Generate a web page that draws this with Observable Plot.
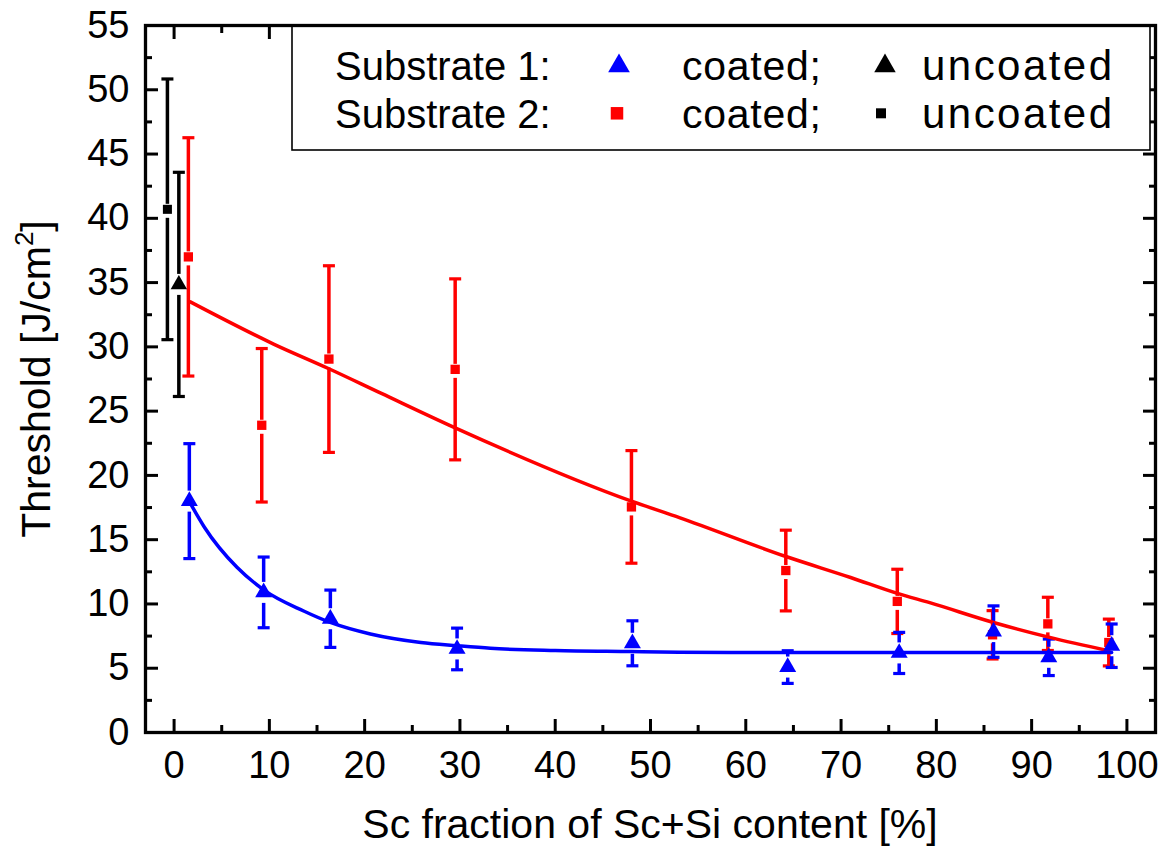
<!DOCTYPE html>
<html>
<head>
<meta charset="utf-8">
<script src="https://cdn.jsdelivr.net/npm/d3@7"></script>
<script src="https://cdn.jsdelivr.net/npm/@observablehq/plot@0.6"></script>
<style>
  html, body { margin: 0; padding: 0; background: #fff; }
  #chart { width: 1170px; height: 853px; }
</style>
</head>
<body>
<div id="chart"></div>
<script>
// ---------- data ----------
// Substrate 1, coated (blue triangles)
const sub1CoatedX   = [1.6, 9.4, 16.4, 29.7, 48.1, 64.4, 76.1, 86.0, 91.8, 98.4];
const sub1CoatedY   = [18.0, 10.9, 8.85, 6.5, 6.94, 5.09, 6.19, 7.85, 5.85, 6.75];
const sub1CoatedErr = [4.47, 2.75, 2.23, 1.62, 1.75, 1.27, 1.6, 2.0, 1.42, 1.69];
// Substrate 2, coated (red squares)
const sub2CoatedX   = [1.5, 9.2, 16.25, 29.5, 48.0, 64.2, 75.9, 85.9, 91.7, 98.1];
const sub2CoatedY   = [37.0, 23.9, 29.05, 28.25, 17.55, 12.6, 10.2, 7.6, 8.45, 7.0];
const sub2CoatedErr = [9.27, 5.97, 7.26, 7.04, 4.38, 3.14, 2.5, 1.88, 2.07, 1.82];
// Substrate 1, uncoated (black triangle)
const sub1UncoatedX   = [0.5];
const sub1UncoatedY   = [34.86];
const sub1UncoatedErr = [8.72];
// Substrate 2, uncoated (black square)
const sub2UncoatedX   = [-0.7];
const sub2UncoatedY   = [40.7];
const sub2UncoatedErr = [10.14];
// Fit curves, points
const fit1X = [1.65, 3.2, 6.6, 9.4, 13.6, 16.4, 20.6, 25.9, 29.7, 33.2, 40, 48, 53, 65, 80, 98.4];
const fit1Y = [17.9, 15.95, 12.85, 11.1, 9.45, 8.56, 7.66, 7.0, 6.75, 6.55, 6.38, 6.3, 6.25, 6.22, 6.22, 6.22];
const fit2X = [1.7, 10.5, 16.25, 21.7, 29.5, 48, 53.1, 64.3, 71, 76, 79.3, 86, 91.9, 98.1];
const fit2Y = [33.5, 30.2, 28.3, 26.4, 23.7, 18.0, 16.7, 13.67, 12.06, 10.8, 10.1, 8.56, 7.4, 6.36];
// Ticks
const xMajorTicks = [0, 10, 20, 30, 40, 50, 60, 70, 80, 90, 100];
const xMinorTicks = [5, 15, 25, 35, 45, 55, 65, 75, 85, 95];
const yMajorTicks = [0, 5, 10, 15, 20, 25, 30, 35, 40, 45, 50, 55];
const yMinorTicks = [2.5, 7.5, 12.5, 17.5, 22.5, 27.5, 32.5, 37.5, 42.5, 47.5, 52.5];
// Texts
const xTitle = "Sc fraction of Sc+Si content [%]";
const yTitleMain = "Threshold [J/cm";
const yTitleSup = "2";
const yTitleEnd = "]";
const legendRows = [
  {label: "Substrate 1:", coated: "coated;", uncoated: "uncoated", symbol: "triangle", color: "#0000ff"},
  {label: "Substrate 2:", coated: "coated;", uncoated: "uncoated", symbol: "square", color: "#ff0000"}
];

// ---------- build tables ----------
const rows = (xs, ys, es) => xs.map((x, i) => ({x, y: ys[i], e: es[i]}));
const s1c = rows(sub1CoatedX, sub1CoatedY, sub1CoatedErr);
const s2c = rows(sub2CoatedX, sub2CoatedY, sub2CoatedErr);
const s1u = rows(sub1UncoatedX, sub1UncoatedY, sub1UncoatedErr);
const s2u = rows(sub2UncoatedX, sub2UncoatedY, sub2UncoatedErr);
const fit1 = fit1X.map((x, i) => ({x, y: fit1Y[i]}));
const fit2 = fit2X.map((x, i) => ({x, y: fit2Y[i]}));

const capSymbol = {
  draw(ctx, size) {
    const r = Math.sqrt(size / Math.PI);
    ctx.moveTo(-r, 0);
    ctx.lineTo(r, 0);
  }
};

function errorBars(data, color, gapUp, gapDown) {
  return [
    Plot.ruleX(data, {x: "x", y1: d => d.y + d.e, y2: "y", insetBottom: gapUp, stroke: color, strokeWidth: 3.5}),
    Plot.ruleX(data, {x: "x", y1: "y", y2: d => d.y - d.e, insetTop: gapDown, stroke: color, strokeWidth: 3.5}),
    Plot.dot(data, {x: "x", y: d => d.y + d.e, symbol: capSymbol, r: 6, fill: "none", stroke: color, strokeWidth: 3.2}),
    Plot.dot(data, {x: "x", y: d => d.y - d.e, symbol: capSymbol, r: 6, fill: "none", stroke: color, strokeWidth: 3.2})
  ];
}
function markers(data, symbol, r, color) {
  return Plot.dot(data, {x: "x", y: "y", symbol, r, fill: color, stroke: "none"});
}

const FONT = "'Liberation Sans', Arial, Helvetica, sans-serif";
const noText = () => "";

const plot = Plot.plot({
  width: 1170,
  height: 853,
  marginLeft: 145,
  marginRight: 15,
  marginTop: 25,
  marginBottom: 121,
  x: {domain: [-3, 103]},
  y: {domain: [0, 55]},
  style: {fontFamily: FONT, background: "white", color: "black"},
  marks: [
    // axes: inward major / minor ticks on all four sides
    Plot.axisX({anchor: "bottom", ticks: xMajorTicks, tickSize: -13, tickPadding: 32, fontSize: 38, strokeWidth: 3, label: null}),
    Plot.axisX({anchor: "bottom", ticks: xMinorTicks, tickSize: -7, tickFormat: noText, strokeWidth: 3, label: null}),
    Plot.axisX({anchor: "top", ticks: xMajorTicks, tickSize: -13, tickFormat: noText, strokeWidth: 3, label: null}),
    Plot.axisX({anchor: "top", ticks: xMinorTicks, tickSize: -7, tickFormat: noText, strokeWidth: 3, label: null}),
    Plot.axisY({anchor: "left", ticks: yMajorTicks, tickSize: -13, tickPadding: 29, fontSize: 38, strokeWidth: 3, label: null}),
    Plot.axisY({anchor: "left", ticks: yMinorTicks, tickSize: -7, tickFormat: noText, strokeWidth: 3, label: null}),
    Plot.axisY({anchor: "right", ticks: yMajorTicks, tickSize: -13, tickFormat: noText, strokeWidth: 3, label: null}),
    Plot.axisY({anchor: "right", ticks: yMinorTicks, tickSize: -7, tickFormat: noText, strokeWidth: 3, label: null}),
    // error bars
    ...errorBars(s2c, "#ff0000", 5, 9),
    ...errorBars(s1c, "#0000ff", 10, 11),
    ...errorBars(s2u, "#000000", 5, 9),
    ...errorBars(s1u, "#000000", 10, 11),
    // fit curves
    Plot.line(fit2, {x: "x", y: "y", stroke: "#ff0000", strokeWidth: 3.5, curve: "monotone-x"}),
    Plot.line(fit1, {x: "x", y: "y", stroke: "#0000ff", strokeWidth: 3.5, curve: "monotone-x"}),
    // markers
    markers(s2c, "square", 5.25, "#ff0000"),
    markers(s1c, "triangle", 6.3, "#0000ff"),
    markers(s2u, "square", 5.1, "#000000"),
    markers(s1u, "triangle", 6.1, "#000000"),
    Plot.frame({stroke: "black", strokeWidth: 3.3})
  ]
});

const svg = d3.select(plot);
// axis titles
svg.append("text")
  .attr("x", 650).attr("y", 838)
  .attr("text-anchor", "middle")
  .attr("font-family", FONT).attr("font-size", 41).attr("fill", "black")
  .text(xTitle);
const yt = svg.append("text")
  .attr("transform", "translate(50,379) rotate(-90)")
  .attr("text-anchor", "middle")
  .attr("font-family", FONT).attr("font-size", 41).attr("fill", "black");
yt.append("tspan").text(yTitleMain);
yt.append("tspan").attr("dy", -17).attr("font-size", 26).text(yTitleSup);
yt.append("tspan").attr("dy", 17).text(yTitleEnd);

// legend box inside the plot frame
const lg = svg.append("g").attr("font-family", FONT).attr("font-size", 40)
  .attr("fill", "black").attr("text-anchor", "start");
lg.append("rect").attr("x", 292).attr("y", 25).attr("width", 858).attr("height", 125)
  .attr("fill", "white").attr("stroke", "black").attr("stroke-width", 1.6);
const rowBase = [80, 128];
legendRows.forEach((r, i) => {
  const b = rowBase[i];
  lg.append("text").attr("text-anchor", "start").attr("x", 335).attr("y", b).text(r.label);
  lg.append("text").attr("text-anchor", "start").attr("x", 682).attr("y", b)
    .attr("font-size", 41).attr("textLength", 139).attr("lengthAdjust", "spacing").text(r.coated);
  lg.append("text").attr("text-anchor", "start").attr("x", 922).attr("y", b)
    .attr("font-size", 42).attr("textLength", 190).attr("lengthAdjust", "spacing").text(r.uncoated);
  const sym = r.symbol === "triangle" ? d3.symbolTriangle : d3.symbolSquare;
  const big = r.symbol === "triangle" ? 6.26 * 6.26 * 3 * Math.sqrt(3) : 12.5 * 12.5;
  const small = r.symbol === "triangle" ? 6.2 * 6.2 * 3 * Math.sqrt(3) : 10 * 10;
  const cy = r.symbol === "triangle" ? 66 : 113.3;
  lg.append("path").attr("d", d3.symbol(sym, big)()).attr("fill", r.color)
    .attr("transform", `translate(${r.symbol === "triangle" ? 619 : 617},${cy})`);
  lg.append("path").attr("d", d3.symbol(sym, small)()).attr("fill", "black")
    .attr("transform", `translate(${r.symbol === "triangle" ? 885 : 881},${cy})`);
});
// redraw frame on top of legend box edge
svg.node().appendChild(svg.select("[aria-label=frame]").node());

document.getElementById("chart").appendChild(plot);
</script>
</body>
</html>
